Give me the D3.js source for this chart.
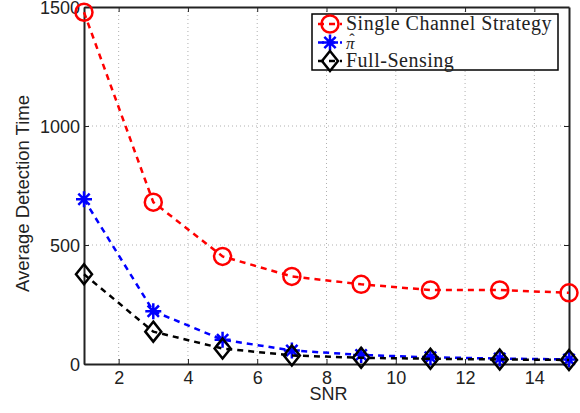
<!DOCTYPE html>
<html>
<head>
<meta charset="utf-8">
<script src="https://cdn.jsdelivr.net/npm/d3@7"></script>
<style>
  body { margin: 0; background: #fff; }
  svg { display: block; }
</style>
</head>
<body>
<div id="wrapper"></div>
<script>
// data
const snr = [1, 3, 5, 7, 9, 11, 13, 15];
const singleChannel = [1478, 680, 452, 368, 335, 311, 311, 299];
const piHat = [692, 222, 102, 57, 38, 28, 23, 19];
const fullSensing = [377, 136, 65, 36, 26, 22, 19, 17];
const xTicks = [2, 4, 6, 8, 10, 12, 14];
const yTicks = [0, 500, 1000, 1500];
const seriesNames = ["Single Channel Strategy", "\u03C0", "Full-Sensing"];

function buildPlot() {
    const dimension = {
        width: 580,
        height: 413,
        margin: { top: 7, left: 84, bottom: 49, right: 11 }
    };
    dimension.boundedWidth = dimension.width - dimension.margin.left - dimension.margin.right;
    dimension.boundedHeight = dimension.height - dimension.margin.top - dimension.margin.bottom;

    const svg = d3.select("#wrapper").append("svg")
        .attr("width", dimension.width)
        .attr("height", dimension.height);

    const xScaler = d3.scaleLinear().domain([1, 15])
        .range([dimension.margin.left, dimension.margin.left + dimension.boundedWidth]);
    const yScaler = d3.scaleLinear().domain([0, 1500])
        .range([dimension.margin.top + dimension.boundedHeight, dimension.margin.top]);

    const x0 = xScaler.range()[0], x1 = xScaler.range()[1];
    const y0 = yScaler.range()[0], y1 = yScaler.range()[1];

    // grid
    svg.append("g").selectAll("line").data(xTicks).join("line")
        .attr("x1", d => xScaler(d)).attr("x2", d => xScaler(d))
        .attr("y1", y1).attr("y2", y0)
        .attr("stroke", "#b0b0b0").attr("stroke-width", 1).attr("stroke-dasharray", "1,3");
    svg.append("g").selectAll("line").data(yTicks.slice(1, -1)).join("line")
        .attr("y1", d => yScaler(d)).attr("y2", d => yScaler(d))
        .attr("x1", x0).attr("x2", x1)
        .attr("stroke", "#b0b0b0").attr("stroke-width", 1).attr("stroke-dasharray", "1,3");

    // axes
    const fontAxis = "'Liberation Sans', Arial, sans-serif";
    const fmt = d3.format("d");
    const xAxis = svg.append("g")
        .attr("transform", `translate(0,${y0})`)
        .call(d3.axisBottom(xScaler).tickValues(xTicks).tickFormat(fmt).tickSizeInner(-5).tickSizeOuter(0).tickPadding(7));
    const yAxis = svg.append("g")
        .attr("transform", `translate(${x0},0)`)
        .call(d3.axisLeft(yScaler).tickValues(yTicks).tickFormat(fmt).tickSizeInner(-5).tickSizeOuter(0).tickPadding(4));
    const xTop = svg.append("g")
        .attr("transform", `translate(0,${y1})`)
        .call(d3.axisTop(xScaler).tickValues(xTicks).tickSizeInner(-5).tickSizeOuter(0).tickFormat(""));
    const yRight = svg.append("g")
        .attr("transform", `translate(${x1},0)`)
        .call(d3.axisRight(yScaler).tickValues(yTicks).tickSizeInner(-5).tickSizeOuter(0).tickFormat(""));

    [xAxis, yAxis, xTop, yRight].forEach(g => {
        g.select(".domain").attr("stroke", "#222").attr("stroke-width", 2);
        g.selectAll(".tick line").attr("stroke", "#222").attr("stroke-width", 1);
        g.selectAll("text").attr("fill", "#222").style("font-family", fontAxis).style("font-size", "18px");
    });
    yAxis.selectAll(".tick text").attr("dy", "0.35em");

    svg.append("text")
        .attr("x", (x0 + x1) / 2 + 2).attr("y", 400)
        .attr("text-anchor", "middle")
        .style("font-family", fontAxis).style("font-size", "18px").attr("fill", "#222")
        .text("SNR");
    svg.append("text")
        .attr("transform", `translate(29,${(y0 + y1) / 2 + 8}) rotate(-90)`)
        .attr("text-anchor", "middle")
        .style("font-family", fontAxis).style("font-size", "18.5px").attr("fill", "#222")
        .text("Average Detection Time");

    const line = d3.line().x((d, i) => xScaler(snr[i])).y(d => yScaler(d));

    const series = [
        { values: singleChannel, color: "#ff0000", marker: "circle" },
        { values: piHat, color: "#0000ff", marker: "star" },
        { values: fullSensing, color: "#000000", marker: "diamond" }
    ];

    function drawMarker(g, type, color, cx, cy) {
        if (type === "circle") {
            g.append("circle").attr("cx", cx).attr("cy", cy).attr("r", 8.5)
                .attr("fill", "none").attr("stroke", color).attr("stroke-width", 2.5);
        } else if (type === "diamond") {
            const r = 10;
            g.append("path")
                .attr("d", `M${cx},${cy - r}L${cx + r * 0.8},${cy}L${cx},${cy + r}L${cx - r * 0.8},${cy}Z`)
                .attr("fill", "none").attr("stroke", color).attr("stroke-width", 2.5);
        } else {
            const r = 8;
            let d = "";
            [0, 45, 90, 135].forEach(a => {
                const rad = a * Math.PI / 180;
                d += `M${cx - r * Math.cos(rad)},${cy - r * Math.sin(rad)}L${cx + r * Math.cos(rad)},${cy + r * Math.sin(rad)}`;
            });
            g.append("path").attr("d", d).attr("stroke", color).attr("stroke-width", 2.5);
        }
    }

    series.forEach(s => {
        svg.append("path").datum(s.values)
            .attr("d", line)
            .attr("fill", "none").attr("stroke", s.color)
            .attr("stroke-width", 2.5).attr("stroke-dasharray", "6,5");
        const g = svg.append("g");
        s.values.forEach((v, i) => drawMarker(g, s.marker, s.color, xScaler(snr[i]), yScaler(v)));
    });

    // legend
    const serif = "'Liberation Serif', 'Times New Roman', serif";
    const legend = svg.append("g");
    legend.append("rect").attr("x", 312).attr("y", 14).attr("width", 246).attr("height", 56)
        .attr("fill", "#fff").attr("stroke", "#000").attr("stroke-width", 1.5);
    const rowY = [24, 42.5, 61];
    series.forEach((s, i) => {
        const ly = rowY[i];
        legend.append("line").attr("x1", 318).attr("x2", 342).attr("y1", ly).attr("y2", ly)
            .attr("stroke", s.color).attr("stroke-width", 2.5).attr("stroke-dasharray", "6,5");
        drawMarker(legend, s.marker, s.color, 330, ly);
        legend.append("text").attr("x", 346).attr("y", ly + 6)
            .style("font-family", serif)
            .style("font-size", i === 1 ? "17px" : "20px")
            .style("font-style", i === 1 ? "italic" : "normal")
            .style("letter-spacing", i === 1 ? "0px" : "0.5px")
            .attr("fill", "#222")
            .text(seriesNames[i]);
        if (i === 1) {
            // hat accent over pi
            legend.append("text").attr("x", 352).attr("y", ly + 2)
                .attr("text-anchor", "middle")
                .style("font-family", serif).style("font-size", "16px").attr("fill", "#222")
                .text("\u02C6");
        }
    });
}

buildPlot();
</script>
</body>
</html>
